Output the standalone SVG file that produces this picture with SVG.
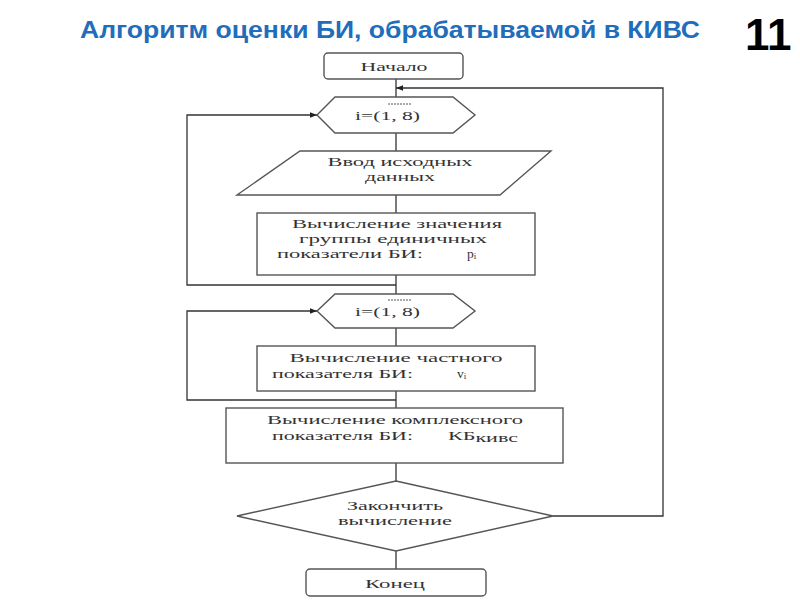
<svg xmlns="http://www.w3.org/2000/svg" width="800" height="600" viewBox="0 0 800 600">
<style>
.shape{fill:#fff;stroke:#555;stroke-width:1.4}
.conn{fill:none;stroke:#333;stroke-width:1.3}
.t{font-family:"Liberation Serif","Times New Roman",serif;font-size:13.5px;fill:#333}
.c{text-anchor:middle}
</style>
<defs>
<marker id="arr" viewBox="0 0 10 10" refX="10" refY="5" markerWidth="7" markerHeight="7" orient="auto" markerUnits="userSpaceOnUse">
<path d="M0,1 L10,5 L0,9 z" fill="#222"/>
</marker>
</defs>
<rect width="800" height="600" fill="#fff"/>
<text x="80" y="38" font-family="Liberation Sans,Arial,sans-serif" font-weight="bold" font-size="24" fill="#1f6dbb" textLength="620" lengthAdjust="spacingAndGlyphs">Алгоритм оценки БИ, обрабатываемой в КИВС</text>
<text x="745" y="50" font-family="Liberation Sans,Arial,sans-serif" font-weight="bold" font-size="44" fill="#000">11</text>

<g id="connectors">
<path class="conn" d="M396,79 V97"/>
<path class="conn" d="M396,133 V151"/>
<path class="conn" d="M396,195 V213"/>
<path class="conn" d="M396,275 V294"/>
<path class="conn" d="M396,328 V346"/>
<path class="conn" d="M396,391 V408"/>
<path class="conn" d="M396,463 V481"/>
<path class="conn" d="M396,551 V569"/>
<path class="conn" d="M396,285 H187 V115 H317" marker-end="url(#arr)"/>
<path class="conn" d="M396,400 H187 V311 H317" marker-end="url(#arr)"/>
<path class="conn" d="M553,516 H663 V88 H396" marker-end="url(#arr)"/>
</g>

<g id="start">
<rect class="shape" x="324" y="53" width="139" height="26" rx="4"/>
<text class="t c" x="394" y="71" textLength="67" lengthAdjust="spacingAndGlyphs">Начало</text>
</g>

<g id="loop1">
<polygon class="shape" points="317,115 335,97 453,97 475,115 453,133 335,133"/>
<text class="t" x="355" y="120" textLength="65" lengthAdjust="spacingAndGlyphs">i=(1, 8)</text>
<line x1="388" y1="104" x2="412" y2="104" stroke="#555" stroke-width="1" stroke-dasharray="2,1"/>
</g>

<g id="input">
<polygon class="shape" points="300,151 551,151 500,195 237,195"/>
<text class="t c" x="400" y="166" textLength="145" lengthAdjust="spacingAndGlyphs">Ввод исходных</text>
<text class="t c" x="400" y="181" textLength="70" lengthAdjust="spacingAndGlyphs">данных</text>
</g>

<g id="calc-p">
<rect class="shape" x="257" y="213" width="278" height="62"/>
<text class="t c" x="397" y="228" textLength="210" lengthAdjust="spacingAndGlyphs">Вычисление значения</text>
<text class="t c" x="393" y="243" textLength="188" lengthAdjust="spacingAndGlyphs">группы единичных</text>
<text class="t" x="277" y="258" textLength="146" lengthAdjust="spacingAndGlyphs">показатели БИ:</text>
<text class="t" x="467" y="258">p<tspan font-size="9" dy="1">i</tspan></text>
</g>

<g id="loop2">
<polygon class="shape" points="317,311 335,294 453,294 475,311 453,328 335,328"/>
<text class="t" x="355" y="316" textLength="65" lengthAdjust="spacingAndGlyphs">i=(1, 8)</text>
<line x1="388" y1="300" x2="412" y2="300" stroke="#555" stroke-width="1" stroke-dasharray="2,1"/>
</g>

<g id="calc-v">
<rect class="shape" x="257" y="346" width="278" height="45"/>
<text class="t c" x="396" y="362" textLength="213" lengthAdjust="spacingAndGlyphs">Вычисление частного</text>
<text class="t" x="272" y="378" textLength="141" lengthAdjust="spacingAndGlyphs">показателя БИ:</text>
<text class="t" x="457" y="378">v<tspan font-size="9" dy="1">i</tspan></text>
</g>

<g id="calc-kb">
<rect class="shape" x="226" y="408" width="337" height="55"/>
<text class="t c" x="395" y="424" textLength="256" lengthAdjust="spacingAndGlyphs">Вычисление комплексного</text>
<text class="t" x="272" y="440" textLength="141" lengthAdjust="spacingAndGlyphs">показателя БИ:</text>
<text class="t" x="448" y="440" font-size="15" textLength="70" lengthAdjust="spacingAndGlyphs">КБ<tspan dy="2">кивс</tspan></text>
</g>

<g id="decision">
<polygon class="shape" points="396,481 553,516 396,551 237,516"/>
<text class="t c" x="395" y="510" textLength="96" lengthAdjust="spacingAndGlyphs">Закончить</text>
<text class="t c" x="395" y="525" textLength="114" lengthAdjust="spacingAndGlyphs">вычисление</text>
</g>

<g id="end">
<rect class="shape" x="306" y="569" width="180" height="27" rx="4"/>
<text class="t c" x="395" y="588" textLength="60" lengthAdjust="spacingAndGlyphs">Конец</text>
</g>
</svg>
